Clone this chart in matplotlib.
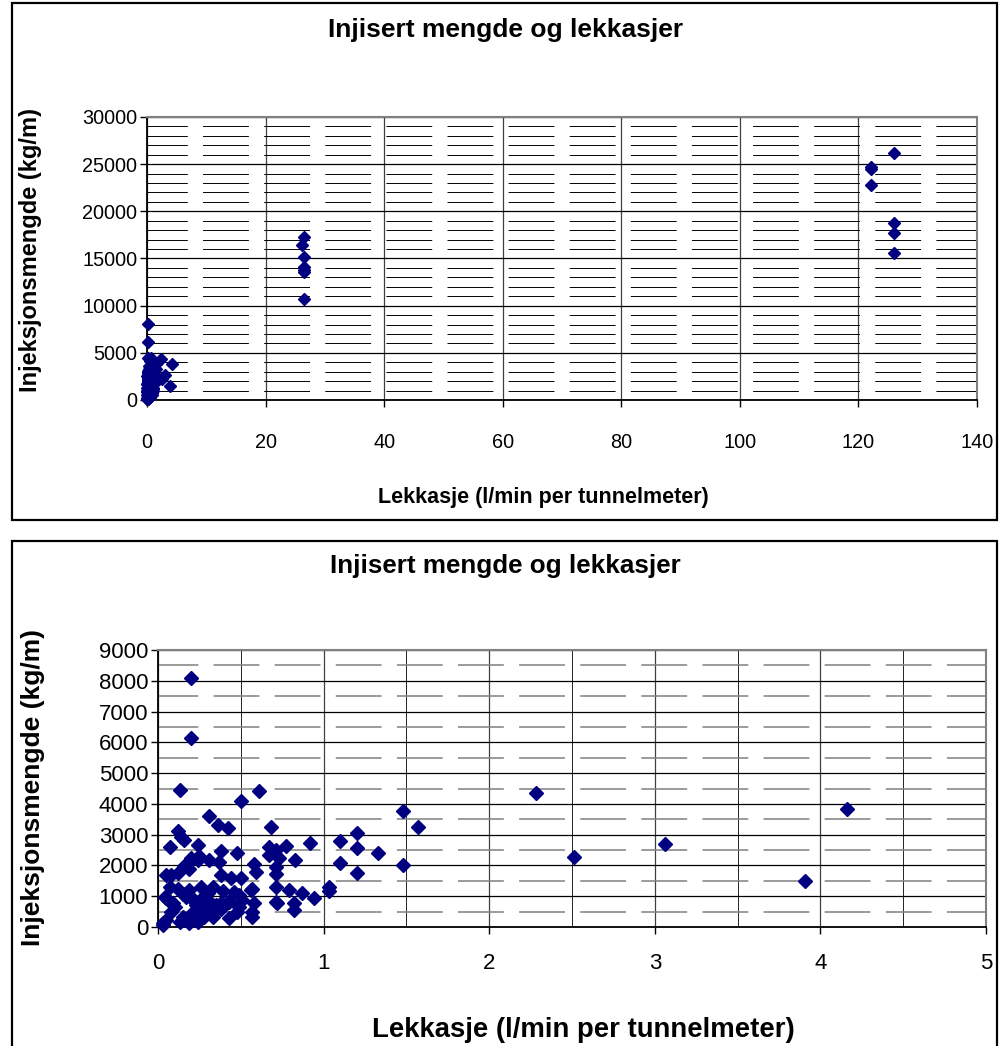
import matplotlib
matplotlib.use("Agg")
import matplotlib.pyplot as plt
from matplotlib.ticker import MultipleLocator
from matplotlib.patches import Rectangle

plt.rcParams['font.family'] = ['Liberation Sans', 'DejaVu Sans']
plt.rcParams['lines.scale_dashes'] = False

# lekkasje (l/min per tunnelmeter) og injeksjonsmengde (kg/m), lese av figuren
lekkasje_lav = [0.20, 0.20, 0.13, 0.61, 0.50, 0.31, 0.36, 0.42, 0.68, 0.12,
                0.14, 0.16, 0.07, 0.24, 0.38, 0.48, 0.67, 0.71, 0.77, 0.92,
                0.67, 0.73, 0.83, 0.25, 0.20, 0.18, 0.24, 0.31, 0.37, 0.19,
                0.58, 0.59, 0.71, 0.71, 0.05, 0.08, 0.12, 0.38, 0.44, 0.50,
                0.07, 0.33, 0.39, 0.57, 0.71, 0.79, 0.87, 0.94, 1.03, 1.03,
                1.10, 1.10, 1.20, 1.20, 1.20, 1.33, 1.48, 1.48, 1.57, 2.28,
                2.51, 3.06, 3.91, 4.16, 0.71, 0.72, 0.82, 0.82, 0.04, 0.06,
                0.09, 0.05, 0.08, 0.19, 0.17, 0.21, 0.23, 0.26, 0.32, 0.36,
                0.38, 0.43, 0.49, 0.51, 0.56, 0.58, 0.57, 0.49, 0.48, 0.43,
                0.03, 0.05, 0.15, 0.17, 0.19, 0.25, 0.28, 0.32, 0.24, 0.33,
                0.57, 0.22, 0.24, 0.27, 0.35, 0.38, 0.42, 0.15, 0.16, 0.12,
                0.28, 0.10, 0.03, 0.13, 0.20, 0.46, 0.30, 0.26]
injeksjon_lav = [8080, 6130, 4460, 4430, 4090, 3610, 3310, 3230, 3260, 3120,
                 2930, 2830, 2590, 2660, 2470, 2410, 2590, 2500, 2630, 2720,
                 2340, 2230, 2180, 2310, 2230, 2090, 2180, 2180, 2120, 1870,
                 2050, 1800, 1940, 1710, 1690, 1690, 1760, 1690, 1600, 1590,
                 1310, 1310, 1170, 1220, 1310, 1190, 1090, 940, 1310, 1180,
                 2790, 2070, 3050, 2560, 1740, 2390, 3770, 2010, 3240, 4340,
                 2260, 2700, 1500, 3820, 820, 770, 790, 550, 980, 880,
                 770, 930, 500, 1200, 980, 880, 720, 660, 770, 660,
                 770, 820, 1040, 880, 1200, 770, 500, 660, 500, 280,
                 120, 230, 330, 230, 120, 230, 330, 440, 170, 340,
                 340, 880, 660, 550, 720, 600, 820, 1080, 1980, 1250,
                 1020, 640, 60, 150, 420, 1150, 1100, 1300]

lekkasje_hoy = [26.5, 26.1, 26.5, 26.5, 26.5, 26.4, 26.5,
                126.0, 122.2, 122.2, 122.2, 126.0, 126.0, 126.0]
injeksjon_hoy = [17310, 16430, 15190, 14130, 13780, 13600, 10710,
                 26150, 24730, 24450, 22790, 18800, 17730, 15550]

tittel = "Injisert mengde og lekkasjer"
xlabel = "Lekkasje (l/min per tunnelmeter)"
ylabel = "Injeksjonsmengde (kg/m)"

W, H = 1002.0, 1046.0
blue = '#000080'


def px(x0, y0, x1, y1):
    # pixel box -> figure fraction [left, bottom, width, height]
    return [x0 / W, 1 - y1 / H, (x1 - x0) / W, (y1 - y0) / H]


def ramme(fig, x0, y0, x1, y1):
    r = Rectangle((x0 / W, 1 - y1 / H), (x1 - x0) / W, (y1 - y0) / H,
                  transform=fig.transFigure, fill=False, ec='black', lw=1.6)
    fig.add_artist(r)


def style_axes(ax, xmax, xstep, ymax, ystep, yminor, fs, xpad, minor_col, minor_lw, xminor=None):
    ax.set_xlim(0, xmax)
    ax.set_ylim(0, ymax)
    ax.xaxis.set_major_locator(MultipleLocator(xstep))
    ax.yaxis.set_major_locator(MultipleLocator(ystep))
    ax.yaxis.set_minor_locator(MultipleLocator(yminor))
    if xminor:
        ax.xaxis.set_minor_locator(MultipleLocator(xminor))
        ax.grid(True, axis='x', which='minor', color='black', lw=0.6)
    ax.set_axisbelow(True)
    ax.grid(True, axis='y', which='major', color='black', lw=0.9)
    ax.grid(True, axis='x', which='major', color='#404040', lw=0.9)
    ax.grid(True, axis='y', which='minor', color=minor_col, lw=minor_lw,
            linestyle=(4, (33, 11)))
    for s in ['top', 'right']:
        ax.spines[s].set_color('#808080')
        ax.spines[s].set_linewidth(1.5)
    for s in ['left', 'bottom']:
        ax.spines[s].set_color('black')
        ax.spines[s].set_linewidth(1.3)
    ax.tick_params(which='minor', length=0)
    ax.tick_params(which='major', direction='out', length=5, width=1, labelsize=fs)
    ax.tick_params(axis='x', pad=xpad)
    ax.tick_params(axis='y', pad=2)
    ax.set_facecolor('white')


fig = plt.figure(figsize=(W / 100, H / 100), dpi=100)

# --- oppe: alle data
ramme(fig, 12, 3, 997, 520)
ax1 = fig.add_axes(px(147, 117, 977, 400))
style_axes(ax1, 140, 20, 30000, 5000, 1000, 14.3, 19, 'black', 0.7)
ax1.plot(lekkasje_lav + lekkasje_hoy, injeksjon_lav + injeksjon_hoy, 'D',
         color=blue, ms=6, clip_on=False, zorder=5)
fig.text(506 / W, 1 - 30 / H, tittel, ha='center', va='center',
         fontsize=19, fontweight='bold')
fig.text(543 / W, 1 - 498 / H, xlabel, ha='center', va='center',
         fontsize=15.5, fontweight='bold')
fig.text(31 / W, 1 - 250 / H, ylabel, ha='center', va='center',
         rotation=90, fontsize=17, fontweight='bold')

# --- nede: utsnitt
ramme(fig, 12, 541, 997, 1052)
ax2 = fig.add_axes(px(158, 650, 986, 927))
style_axes(ax2, 5, 1, 9000, 1000, 500, 16, 14, '#808080', 1.1, xminor=0.5)
xs = [x for x, y in zip(lekkasje_lav, injeksjon_lav) if x <= 5 and y <= 9000]
ys = [y for x, y in zip(lekkasje_lav, injeksjon_lav) if x <= 5 and y <= 9000]
ax2.plot(xs, ys, 'D', color=blue, ms=7, clip_on=False, zorder=5)
fig.text(505 / W, 1 - 566 / H, tittel, ha='center', va='center',
         fontsize=18.7, fontweight='bold')
fig.text(583 / W, 1 - 1030 / H, xlabel, ha='center', va='center',
         fontsize=19.8, fontweight='bold')
fig.text(33 / W, 1 - 787 / H, ylabel, ha='center', va='center',
         rotation=90, fontsize=19, fontweight='bold')

fig.savefig("out.png", dpi=100, facecolor='white')
